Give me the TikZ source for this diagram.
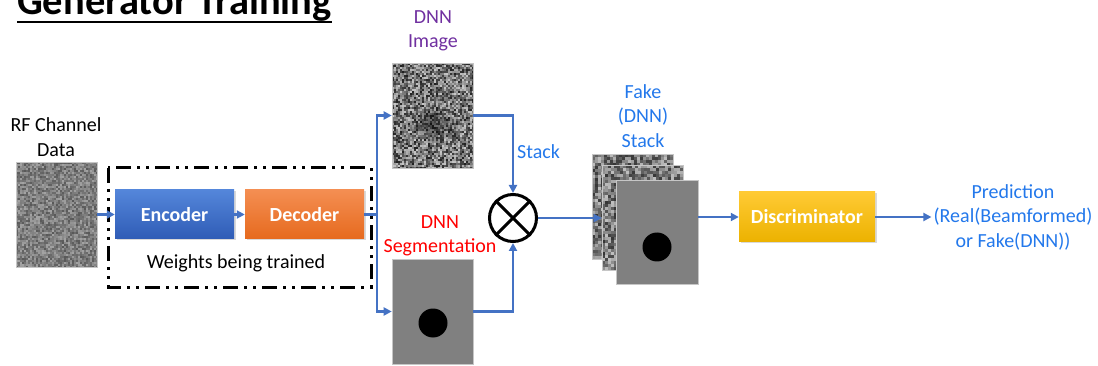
\documentclass[tikz,border=0pt]{standalone}
\usepackage{fontspec}
\setmainfont{Carlito}
\usetikzlibrary{arrows.meta,shadows}

\definecolor{flowblue}{RGB}{68,114,196}
\definecolor{txtblue}{RGB}{35,120,235}
\definecolor{dnnpurple}{RGB}{112,48,160}
\definecolor{enctop}{RGB}{84,134,218}
\definecolor{encbot}{RGB}{47,92,182}
\definecolor{dectop}{RGB}{244,142,82}
\definecolor{decbot}{RGB}{230,106,30}
\definecolor{disctop}{RGB}{255,202,52}
\definecolor{discbot}{RGB}{236,178,0}
\definecolor{seggray}{RGB}{128,128,128}

% speckle: x, y, cols, rows, cell, min black, black range
\newcommand{\speckle}[7]{%
  \foreach \i in {1,...,#3} \foreach \j in {1,...,#4} {
    \pgfmathsetmacro\g{int(#6+#7*rnd)}
    \fill[black!\g] ({#1+#5*(\i-1)},{#2+#5*(\j-1)}) rectangle ++(#5,#5);
  }}

\tikzset{
  lbl/.style={font=\fontsize{20}{24.5}\selectfont, align=center, inner sep=2pt},
  img/.style={draw=gray!45, line width=0.6pt, minimum width=81, minimum height=105, inner sep=0},
  blk/.style={minimum width=119, minimum height=49, text=white, inner sep=0,
    font=\fontsize{20}{24}\selectfont\bfseries,
    drop shadow={opacity=0.3, shadow xshift=1.5pt, shadow yshift=-1.5pt}},
  flow/.style={draw=flowblue, line width=2.5pt},
  tip/.style={-{Triangle[length=8pt,width=8pt]}},
}

\begin{document}
\begin{tikzpicture}[x=1pt, y=-1pt]
\useasboundingbox (0,0) rectangle (1098,366);
\pgfmathsetseed{7}

% title
\node[anchor=base west, inner sep=0, font=\fontsize{40.5}{44}\selectfont\bfseries] (title) at (17,15) {Generator Training};
\draw[line width=2.6pt] ([yshift=-7pt]title.base west) -- ([yshift=-7pt]title.base east);

% input
\node[lbl] (rflbl) at (56,137) {RF Channel\\Data};
\speckle{16}{162}{41}{53}{2}{36}{30}
\node[img] (rf) at (56.5,214.5) {};

% generator
\draw[line width=3pt, dash pattern=on 15pt off 6pt on 3pt off 6pt on 3pt off 6pt] (108,168) rectangle (371,287);
\node[blk, top color=enctop, bottom color=encbot] (enc) at (174.5,214.5) {Encoder};
\node[blk, top color=dectop, bottom color=decbot] (dec) at (304.5,214.5) {Decoder};
\node[lbl] (wlbl) at (236,263) {Weights being trained};

% DNN outputs
\node[lbl, text=dnnpurple] (dnnlbl) at (433,31) {DNN\\Image};
\speckle{392}{63}{41}{53}{2}{22}{66}
\foreach \r/\o in {22/0.10, 17/0.12, 12/0.14, 7/0.16}
  \fill[black, opacity=\o] (432,124) ellipse ({\r} and {0.8*\r});
\node[img] (dnn) at (432.5,115.5) {};

\node[lbl, text=red] (seglbl) at (440,236) {DNN\\Segmentation};
\node[img, fill=seggray] (seg) at (432.5,311.5) {};
\fill[black] (433,323) circle (14.5);

% stacking
\node[circle, draw, line width=3pt, minimum size=47, inner sep=0] (mix) at (513,218) {};
\draw[line width=3pt] (mix.north west) -- (mix.south east) (mix.north east) -- (mix.south west);
\node[lbl, text=txtblue, anchor=west] (stklbl) at (515,152) {Stack};

\node[lbl, text=txtblue] (fakelbl) at (643,116) {Fake\\(DNN)\\Stack};
\speckle{592}{154}{27}{35}{3}{25}{55}
\node[img] (stk1) at (632.5,206.5) {};
\speckle{602}{165}{27}{35}{3}{25}{55}
\node[img] (stk2) at (642.5,217.5) {};
\node[img, fill=seggray, minimum width=82, minimum height=104] (stk3) at (657,232) {};
\fill[black] (657,247) circle (14.5);

% discriminator
\node[blk, minimum width=136, minimum height=50, top color=disctop, bottom color=discbot] (disc) at (807,217) {Discriminator};
\node[lbl, text=txtblue] (pred) at (1013,217) {Prediction\\(Real(Beamformed)\\or Fake(DNN))};

% connectors
\coordinate (split) at (377,214.5);
\draw[flow, tip] (rf.east) -- (enc.west);
\draw[flow, tip] (enc.east) -- (dec.west);
\draw[flow] (dec.east) -- (split);
\draw[flow, tip] (split) |- (dnn.west);
\draw[flow, tip] (split) |- (seg.west);
\draw[flow, tip] (dnn.east) -| (mix.north);
\draw[flow, tip] (seg.east) -| (mix.south);
\draw[flow, tip] (mix.east) -- (mix.east -| stk2.west);
\draw[flow, tip] (stk3.east |- disc.west) -- (disc.west);
\draw[flow, tip] (disc.east) -- (pred.west);
\end{tikzpicture}
\end{document}
